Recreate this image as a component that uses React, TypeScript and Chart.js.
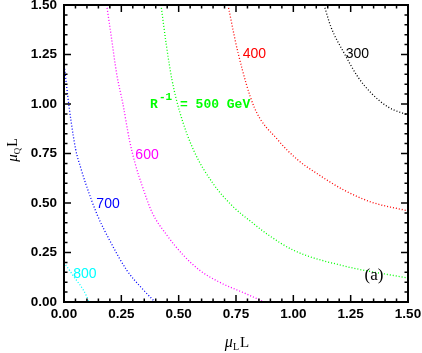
import React, { useEffect, useRef } from "react";
import { Chart, registerables } from "chart.js";

Chart.register(...registerables);

// ---- data ----
const tickValues = [0, 0.25, 0.5, 0.75, 1.0, 1.25, 1.5];

const c300x = [1.134, 1.164, 1.221, 1.282, 1.339, 1.413, 1.5];
const c300y = [1.5, 1.389, 1.258, 1.136, 1.056, 0.985, 0.944];

const c400x = [0.715, 0.759, 0.829, 0.933, 1.02, 1.099, 1.221, 1.339, 1.5];
const c400y = [1.5, 1.258, 0.985, 0.818, 0.717, 0.652, 0.565, 0.505, 0.46];

const c500x = [0.423, 0.446, 0.471, 0.506, 0.565, 0.649, 0.736, 0.822, 0.887, 1.003, 1.221, 1.5];
const c500y = [1.5, 1.3, 1.121, 0.955, 0.767, 0.6, 0.483, 0.4, 0.342, 0.26, 0.182, 0.121];

const c600x = [0.186, 0.205, 0.23, 0.257, 0.285, 0.31, 0.34, 0.383, 0.447, 0.52, 0.592, 0.678, 0.793, 0.873];
const c600y = [1.5, 1.35, 1.15, 1.0, 0.82, 0.7, 0.59, 0.455, 0.34, 0.237, 0.16, 0.1, 0.042, 0];

const c700x = [0, 0.017, 0.03, 0.051, 0.075, 0.094, 0.145, 0.202, 0.274, 0.339, 0.397];
const c700y = [1.207, 1.035, 0.92, 0.77, 0.67, 0.6, 0.44, 0.305, 0.16, 0.07, 0];

const c800x = [0, 0.04, 0.1, 0.107];
const c800y = [0.2, 0.133, 0.025, 0];

const labelTexts = ["300", "400", "600", "700", "800"];
const labelX = [1.279, 0.83, 0.362, 0.192, 0.091];
const labelY = [1.253, 1.253, 0.744, 0.496, 0.14];
const labelColors = ["#000000", "#ff0000", "#ff00ff", "#0000ff", "#00ffff"];

const mainLabelX = 0.375;
const mainLabelY = 0.98;
const panelLabelX = 1.352;
const panelLabelY = 0.136;

const toPoints = (xs: number[], ys: number[]) => xs.map((x, i) => ({ x, y: ys[i] }));

export default function App() {
  const ref = useRef<HTMLCanvasElement>(null);

  useEffect(() => {
    document.body.style.margin = "0";
    const canvas = ref.current!;

    const series = [
      { xs: c300x, ys: c300y, color: "#000000" },
      { xs: c400x, ys: c400y, color: "#ff0000" },
      { xs: c500x, ys: c500y, color: "#00ff00" },
      { xs: c600x, ys: c600y, color: "#ff00ff" },
      { xs: c700x, ys: c700y, color: "#0000ff" },
      { xs: c800x, ys: c800y, color: "#00ffff" },
    ];

    const overlay = {
      id: "overlay",
      afterDraw(chart: any) {
        const { ctx, chartArea: a, scales } = chart;
        const xs = scales.x;
        const ys = scales.y;
        ctx.save();
        // ticks on all four sides, pointing inward
        ctx.strokeStyle = "#000";
        ctx.lineWidth = 1.5;
        for (let i = 0; i <= 30; i++) {
          const v = i * 0.05;
          const major = i % 5 === 0;
          const len = major ? 7 : 3.5;
          const px = xs.getPixelForValue(v);
          const py = ys.getPixelForValue(v);
          ctx.beginPath();
          ctx.moveTo(px, a.bottom);
          ctx.lineTo(px, a.bottom - len);
          ctx.moveTo(px, a.top);
          ctx.lineTo(px, a.top + len);
          ctx.moveTo(a.left, py);
          ctx.lineTo(a.left + len, py);
          ctx.moveTo(a.right, py);
          ctx.lineTo(a.right - len, py);
          ctx.stroke();
        }
        ctx.lineWidth = 2;
        ctx.strokeRect(a.left, a.top, a.right - a.left, a.bottom - a.top);

        // contour labels
        ctx.textAlign = "center";
        ctx.textBaseline = "middle";
        ctx.font = "14px 'Liberation Sans', Arial, sans-serif";
        labelTexts.forEach((t, i) => {
          ctx.fillStyle = labelColors[i];
          ctx.fillText(t, xs.getPixelForValue(labelX[i]), ys.getPixelForValue(labelY[i]));
        });

        // R^-1 = 500 GeV
        const rx = xs.getPixelForValue(mainLabelX);
        const ry = ys.getPixelForValue(mainLabelY);
        ctx.fillStyle = "#00ff00";
        ctx.textAlign = "left";
        ctx.textBaseline = "alphabetic";
        ctx.font = "bold 13px 'Liberation Mono', monospace";
        ctx.fillText("R", rx, ry);
        ctx.font = "bold 11px 'Liberation Mono', monospace";
        ctx.fillText("-1", rx + 9, ry - 8);
        ctx.font = "bold 13px 'Liberation Mono', monospace";
        ctx.fillText("= 500 GeV", rx + 30, ry);

        // (a)
        ctx.fillStyle = "#000";
        ctx.textAlign = "center";
        ctx.textBaseline = "middle";
        ctx.font = "17px 'Liberation Serif', serif";
        ctx.fillText("(a)", xs.getPixelForValue(panelLabelX), ys.getPixelForValue(panelLabelY));

        // axis titles
        const drawTitle = (sub: string, cx: number, base: number, big: number, small: number) => {
          const muFont = `italic ${big + 1}px 'Liberation Serif', serif`;
          const subFont = `${small}px 'Liberation Serif', serif`;
          const lFont = `${big}px 'Liberation Serif', serif`;
          ctx.font = muFont;
          const w1 = ctx.measureText("\u03bc").width;
          ctx.font = subFont;
          const w2 = ctx.measureText(sub).width;
          ctx.font = lFont;
          const w3 = ctx.measureText("L").width;
          const total = w1 + w2 + 1 + w3;
          let x0 = cx - total / 2;
          ctx.textAlign = "left";
          ctx.textBaseline = "alphabetic";
          ctx.fillStyle = "#000";
          ctx.font = muFont;
          ctx.fillText("\u03bc", x0, base);
          x0 += w1;
          ctx.font = subFont;
          ctx.fillText(sub, x0, base + 3);
          x0 += w2 + 1;
          ctx.font = lFont;
          ctx.fillText("L", x0, base);
        };
        drawTitle("L", 237, 347, 15, 10);
        ctx.save();
        ctx.translate(17, 150);
        ctx.rotate(-Math.PI / 2);
        drawTitle("Q", 0, 0, 14, 9);
        ctx.restore();

        ctx.restore();
      },
    };

    const tickFont = { family: "'Liberation Sans', Arial, sans-serif", size: 13.5, weight: "bold" as const };

    const chart = new Chart(canvas, {
      type: "scatter",
      data: {
        datasets: series.map((s) => ({
          data: toPoints(s.xs, s.ys),
          showLine: true,
          borderColor: s.color,
          backgroundColor: s.color,
          borderWidth: 1.3,
          borderDash: [1, 2],
          pointRadius: 0,
          cubicInterpolationMode: "monotone" as const,
        })),
      },
      options: {
        animation: false,
        responsive: false,
        maintainAspectRatio: false,
        devicePixelRatio: 1,
        layout: { padding: { top: 5, right: 14, left: 0, bottom: 0 } },
        plugins: { legend: { display: false }, tooltip: { enabled: false } },
        scales: {
          x: {
            type: "linear",
            min: 0,
            max: 1.5,
            afterBuildTicks: (s: any) => {
              s.ticks = tickValues.map((v) => ({ value: v }));
            },
            ticks: {
              callback: (v: any) => Number(v).toFixed(2),
              font: tickFont,
              color: "#000",
              padding: 4,
              maxRotation: 0,
              autoSkip: false,
            },
            grid: { display: false, drawTicks: false, tickLength: 0 },
            border: { display: false },
            afterFit: (s: any) => {
              s.height = 51;
              s.paddingLeft = 0;
              s.paddingRight = 0;
            },
          },
          y: {
            type: "linear",
            min: 0,
            max: 1.5,
            afterBuildTicks: (s: any) => {
              s.ticks = tickValues.map((v) => ({ value: v }));
            },
            ticks: {
              callback: (v: any) => Number(v).toFixed(2),
              font: tickFont,
              color: "#000",
              padding: 7,
              autoSkip: false,
            },
            grid: { display: false, drawTicks: false, tickLength: 0 },
            border: { display: false },
            afterFit: (s: any) => {
              s.width = 64;
              s.paddingTop = 0;
              s.paddingBottom = 0;
            },
          },
        },
      },
      plugins: [overlay],
    });

    return () => chart.destroy();
  }, []);

  return (
    <div style={{ width: 422, height: 353 }}>
      <canvas ref={ref} width={422} height={353} />
    </div>
  );
}
